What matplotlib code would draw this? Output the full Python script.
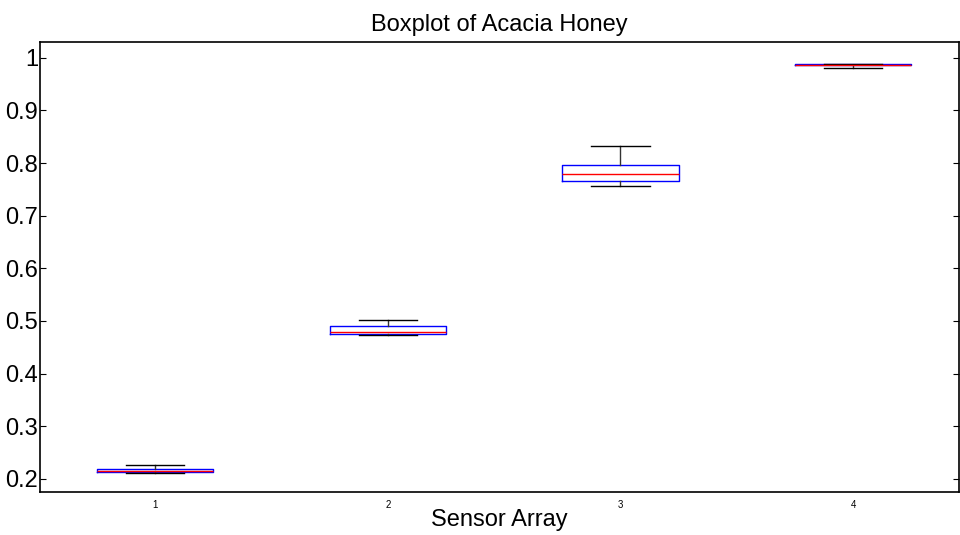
import matplotlib
matplotlib.use("Agg")
import matplotlib.pyplot as plt

plt.rcParams['font.family'] = ['Liberation Sans', 'DejaVu Sans']

# five-number summaries
sensors = ["1", "2", "3", "4"]
whislo = [0.212, 0.474, 0.756, 0.980]
q1 = [0.213, 0.475, 0.766, 0.9855]
med = [0.215, 0.479, 0.780, 0.987]
q3 = [0.219, 0.491, 0.797, 0.9885]
whishi = [0.226, 0.502, 0.832, 0.988]

stats = []
for i in range(len(sensors)):
    stats.append(dict(label=sensors[i], whislo=whislo[i], q1=q1[i], med=med[i],
                      q3=q3[i], whishi=whishi[i], fliers=[]))

fig = plt.figure(figsize=(9.6, 5.35), dpi=100)
ax = fig.add_axes([40 / 960, 43 / 535, 919 / 960, 450 / 535])

ax.bxp(stats, widths=0.5, showfliers=False,
       boxprops=dict(color='#0000ff', linewidth=1),
       medianprops=dict(color='#ff0000', linewidth=1),
       whiskerprops=dict(color='#333333', linewidth=1),
       capprops=dict(color='black', linewidth=1))

ax.set_xlim(0.505, 4.455)
ax.set_ylim(0.175, 1.030)
ax.set_yticks([0.2, 0.3, 0.4, 0.5, 0.6, 0.7, 0.8, 0.9, 1.0])
ax.set_yticklabels(['0.2', '0.3', '0.4', '0.5', '0.6', '0.7', '0.8', '0.9', '1'])
ax.tick_params(axis='y', direction='in', length=4, right=True, labelsize=17, pad=1.5)
ax.tick_params(axis='x', length=0, labelsize=7, pad=6)
for s in ax.spines.values():
    s.set_linewidth(1.2)

ax.set_title("Boxplot of Acacia Honey", fontsize=17, pad=8)
ax.set_xlabel("Sensor Array", fontsize=17, labelpad=-1)

fig.savefig("out.png", dpi=100)
